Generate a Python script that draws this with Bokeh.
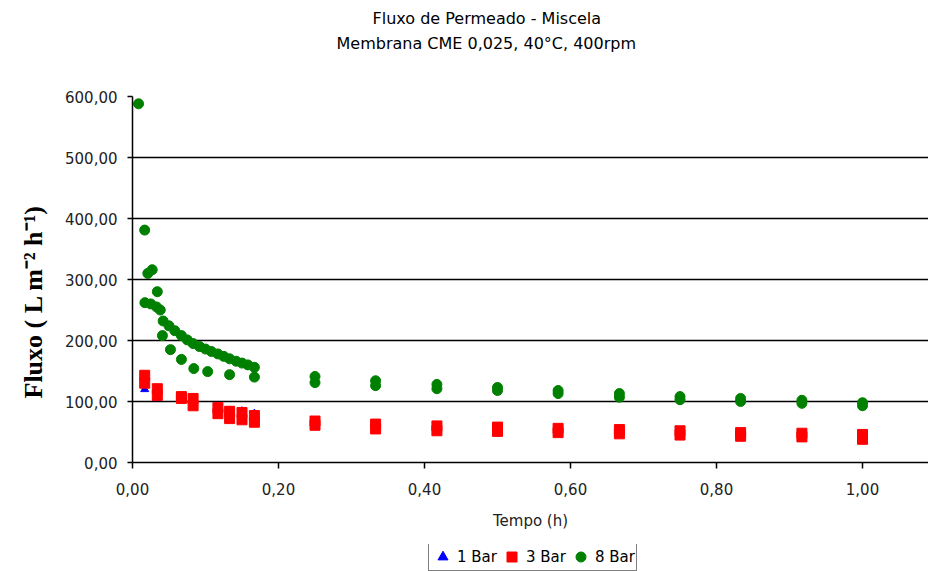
from bokeh.plotting import figure
from bokeh.models import Title, Legend, LegendItem, FixedTicker, Range1d
from bokeh.layouts import column
from bokeh.embed import file_html
from bokeh.resources import INLINE

# ---- data ----
t_1bar = [0.0167, 0.033, 0.067, 0.083, 0.117, 0.133, 0.150, 0.167,
          0.250, 0.333, 0.417, 0.500, 0.583, 0.667, 0.750, 0.833, 0.917, 1.000]
f_1bar = [120, 106, 104, 106, 85, 85, 84, 80,
          62, 57, 53, 52, 50, 48, 46, 44, 43, 38]

t_3bar = [0.0167, 0.0167, 0.034, 0.034, 0.067, 0.067, 0.083, 0.083,
          0.117, 0.117, 0.133, 0.133, 0.150, 0.150, 0.167, 0.167,
          0.250, 0.250, 0.333, 0.333, 0.417, 0.417, 0.500, 0.500,
          0.583, 0.583, 0.667, 0.667, 0.750, 0.750, 0.833, 0.833,
          0.917, 0.917, 1.000, 1.000]
f_3bar = [143, 130, 121, 110, 108, 105, 105, 93,
          90, 80, 84, 72, 82, 70, 77, 66,
          68, 61, 63, 55, 60, 52, 58, 51,
          56, 49, 54, 47, 52, 45, 49, 43,
          48, 42, 46, 38]

t_8bar = [0.0083, 0.0167, 0.021, 0.027, 0.034,
          0.017, 0.025, 0.033, 0.038,
          0.042, 0.050, 0.058, 0.067, 0.075, 0.083, 0.092, 0.100,
          0.108, 0.117, 0.125, 0.133, 0.142, 0.150, 0.158, 0.167,
          0.041, 0.052, 0.067, 0.084, 0.103, 0.133, 0.167,
          0.250, 0.250, 0.333, 0.333, 0.417, 0.417, 0.500, 0.500,
          0.583, 0.583, 0.667, 0.667, 0.750, 0.750, 0.833, 0.833,
          0.917, 0.917, 1.000, 1.000]
f_8bar = [588, 381, 310, 316, 280,
          262, 260, 255, 250,
          232, 224, 216, 208, 201, 195, 190, 186,
          182, 178, 174, 170, 166, 163, 160, 156,
          208, 185, 169, 154, 149, 144, 140,
          141, 131, 134, 126, 128, 121, 123, 118,
          118, 113, 113, 107, 108, 103, 105, 100,
          102, 97, 98, 93]

series_names = ["1 Bar", "3 Bar", "8 Bar"]

y_ticks = [0, 100, 200, 300, 400, 500, 600]
y_labels = ["0,00", "100,00", "200,00", "300,00", "400,00", "500,00", "600,00"]
x_ticks = [0, 0.2, 0.4, 0.6, 0.8, 1.0]
x_labels = ["0,00", "0,20", "0,40", "0,60", "0,80", "1,00"]

TICK_FONT = "DejaVu Sans"

p = figure(width=928, height=544, x_range=Range1d(0, 1.0904), y_range=Range1d(0, 600),
           output_backend="svg", toolbar_location=None, title=None,
           min_border_left=132, min_border_right=0, min_border_top=96, min_border_bottom=82,
           outline_line_color=None, background_fill_color="white", border_fill_color="white")

# titles (first added = nearest to frame); a blank spacer keeps them high
p.add_layout(Title(text=" ", text_font_size="16px", standoff=23), "above")
p.add_layout(Title(text="Membrana CME 0,025, 40°C, 400rpm", align="left", offset=204,
                   text_font="DejaVu Sans", text_font_size="16px", text_font_style="normal",
                   text_color="black", standoff=4), "above")
p.add_layout(Title(text="Fluxo de Permeado - Miscela", align="left", offset=240,
                   text_font="DejaVu Sans", text_font_size="16px", text_font_style="normal",
                   text_color="black", standoff=4), "above")

# grid
p.xgrid.visible = False
p.ygrid.ticker = FixedTicker(ticks=y_ticks)
p.ygrid.grid_line_color = "black"
p.ygrid.grid_line_width = 1.5

# y axis
p.yaxis.ticker = FixedTicker(ticks=y_ticks)
p.yaxis.major_label_overrides = {t: l for t, l in zip(y_ticks, y_labels)}
p.yaxis.major_tick_out = 5
p.yaxis.major_tick_in = 0
p.yaxis.minor_tick_line_color = None
p.yaxis.axis_line_color = "black"
p.yaxis.axis_line_width = 1.5
p.yaxis.major_tick_line_width = 1.5
p.yaxis.major_label_text_font = TICK_FONT
p.yaxis.major_label_text_font_size = "15px"
p.yaxis.major_label_text_color = "#222222"
p.yaxis.major_label_standoff = 10

# x axis
p.xaxis.ticker = FixedTicker(ticks=x_ticks)
p.xaxis.major_label_overrides = {t: l for t, l in zip(x_ticks, x_labels)}
p.xaxis.major_tick_out = 6
p.xaxis.major_tick_in = 0
p.xaxis.minor_tick_line_color = None
p.xaxis.axis_line_color = "black"
p.xaxis.axis_line_width = 1.5
p.xaxis.major_tick_line_width = 1.5
p.xaxis.major_label_text_font = TICK_FONT
p.xaxis.major_label_text_font_size = "15px"
p.xaxis.major_label_text_color = "#222222"
p.xaxis.major_label_standoff = 14
p.xaxis.axis_label = "Tempo (h)"
p.xaxis.axis_label_text_font = TICK_FONT
p.xaxis.axis_label_text_font_size = "15px"
p.xaxis.axis_label_text_font_style = "normal"
p.xaxis.axis_label_text_color = "#222222"
p.xaxis.axis_label_standoff = 14

# y axis title as a left Title
p.add_layout(Title(text="Fluxo ( L m\u207b\u00b2 h\u207b\u00b9)", align="left", offset=64,
                   text_font="Liberation Serif", text_font_size="26px", text_font_style="bold",
                   text_color="black", standoff=30), "left")

# series
p.scatter(t_1bar, f_1bar, marker="triangle", size=8, fill_color="#0000FF", line_color="#0000FF")
p.scatter(t_3bar, f_3bar, marker="square", size=10, fill_color="#FF0000", line_color="#FF0000")
p.scatter(t_8bar, f_8bar, marker="circle", size=10, fill_color="#008000", line_color="#008000")

# legend strip below the chart (same series, out-of-view range so only the key shows)
p2 = figure(width=928, height=27, x_range=Range1d(0, 1.0904), y_range=Range1d(-20, -10),
            output_backend="svg", toolbar_location=None, title=None,
            x_axis_location=None, y_axis_location=None,
            min_border=0, outline_line_color=None,
            background_fill_color="white", border_fill_color="white")
p2.grid.visible = False
q1 = p2.scatter(t_1bar, f_1bar, marker="triangle", size=8, fill_color="#0000FF", line_color="#0000FF")
q3 = p2.scatter(t_3bar, f_3bar, marker="square", size=10, fill_color="#FF0000", line_color="#FF0000")
q8 = p2.scatter(t_8bar, f_8bar, marker="circle", size=10, fill_color="#008000", line_color="#008000")

legend = Legend(items=[LegendItem(label=series_names[0], renderers=[q1]),
                       LegendItem(label=series_names[1], renderers=[q3]),
                       LegendItem(label=series_names[2], renderers=[q8])],
                orientation="horizontal", location=(296, 0),
                border_line_color="black", border_line_width=1.5,
                padding=1, spacing=2, margin=0,
                label_text_font=TICK_FONT, label_text_font_size="15px", label_text_color="black",
                glyph_width=25, glyph_height=25, label_standoff=2, label_height=18,
                background_fill_color="white", background_fill_alpha=1)
p2.add_layout(legend)

layout = column(p, p2, spacing=0)
open("out.html", "w").write(file_html(layout, INLINE))
